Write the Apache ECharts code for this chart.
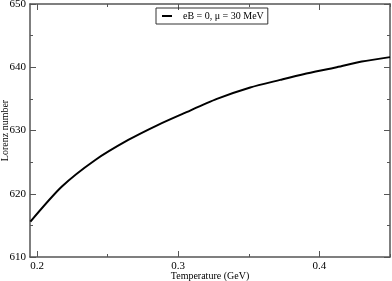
<!DOCTYPE html>
<html><head><meta charset="utf-8">
<script src="https://cdn.jsdelivr.net/npm/echarts@6/dist/echarts.min.js"></script>
<style>html,body{margin:0;padding:0;background:#fff}#c{width:392px;height:281px}</style>
</head><body><div id="c"></div>
<script>
const temperature = [0.1953, 0.2174, 0.2410, 0.2646, 0.2858, 0.3038, 0.3274, 0.3510, 0.3722, 0.3887, 0.4123, 0.4300, 0.4500];
const lorenz      = [615.6, 621.1, 625.3, 628.5, 630.9, 632.7, 635.0, 636.8, 638.0, 638.9, 640.0, 640.9, 641.6];
const xMajor = [0.2, 0.3, 0.4];
const xMinor = [0.25, 0.35, 0.45];
const seriesName = 'eB = 0, \u03bc = 30 MeV';
const xTitle = 'Temperature (GeV)';
const yTitle = 'Lorenz number';

const font = 'Liberation Serif';
const axisCol = '#555';
const chart = echarts.init(document.getElementById('c'), null, {renderer:'canvas'});
const xBase = {type:'value', min:0.195, max:0.45, splitLine:{show:false}};
chart.setOption({
  animation:false,
  grid:{left:30, right:2, top:4, bottom:24, containLabel:false, outerBoundsMode:'none'},
  legend:{left:156, top:8, data:[seriesName], borderColor:'#333', borderWidth:1, borderRadius:0,
    padding:[3,4,3,5], itemWidth:10, itemHeight:2,
    textStyle:{fontFamily:font, fontSize:10, color:'#000', padding:[0,0,0,6]}},
  xAxis:[
    Object.assign({}, xBase, {position:'bottom', name:xTitle, nameLocation:'middle', nameGap:14, nameMoveOverlap:false,
      nameTextStyle:{fontFamily:font, fontSize:10, color:'#000', verticalAlign:'top'},
      axisLine:{lineStyle:{color:axisCol, width:1.5}},
      axisTick:{inside:true, length:6, customValues:xMajor, lineStyle:{color:axisCol}},
      axisLabel:{customValues:xMajor, fontFamily:font, fontSize:11, color:'#000', margin:4,
        formatter:v=>v.toFixed(1)}}),
    Object.assign({}, xBase, {position:'bottom', axisLine:{show:false},
      axisTick:{inside:true, length:3, customValues:xMinor, lineStyle:{color:axisCol}}, axisLabel:{show:false}}),
    Object.assign({}, xBase, {position:'top', axisLine:{lineStyle:{color:axisCol, width:1.5}},
      axisTick:{inside:true, length:6, customValues:xMajor, lineStyle:{color:axisCol}}, axisLabel:{show:false}}),
    Object.assign({}, xBase, {position:'top', axisLine:{show:false},
      axisTick:{inside:true, length:3, customValues:xMinor, lineStyle:{color:axisCol}}, axisLabel:{show:false}})
  ],
  yAxis:[
    {type:'value', min:610, max:650, interval:10, position:'left', name:yTitle, nameLocation:'middle', nameGap:20, nameMoveOverlap:false,
      nameTextStyle:{fontFamily:font, fontSize:10, color:'#000'},
      splitLine:{show:false}, axisLine:{lineStyle:{color:axisCol, width:1.5}},
      axisTick:{inside:true, length:6, lineStyle:{color:axisCol}},
      minorTick:{show:true, splitNumber:2, length:3, lineStyle:{color:axisCol}},
      axisLabel:{fontFamily:font, fontSize:11, color:'#000', margin:4}},
    {type:'value', min:610, max:650, interval:10, position:'right',
      splitLine:{show:false}, axisLine:{lineStyle:{color:axisCol, width:1.5}},
      axisTick:{inside:true, length:6, lineStyle:{color:axisCol}},
      minorTick:{show:true, splitNumber:2, length:3, lineStyle:{color:axisCol}},
      axisLabel:{show:false}}
  ],
  series:[{name:seriesName, type:'line', xAxisIndex:0, yAxisIndex:0, smooth:0.25, symbol:'none',
    lineStyle:{color:'#000', width:2}, itemStyle:{color:'#000'},
    data:temperature.map((t,i)=>[t, lorenz[i]])}]
});
</script></body></html>
